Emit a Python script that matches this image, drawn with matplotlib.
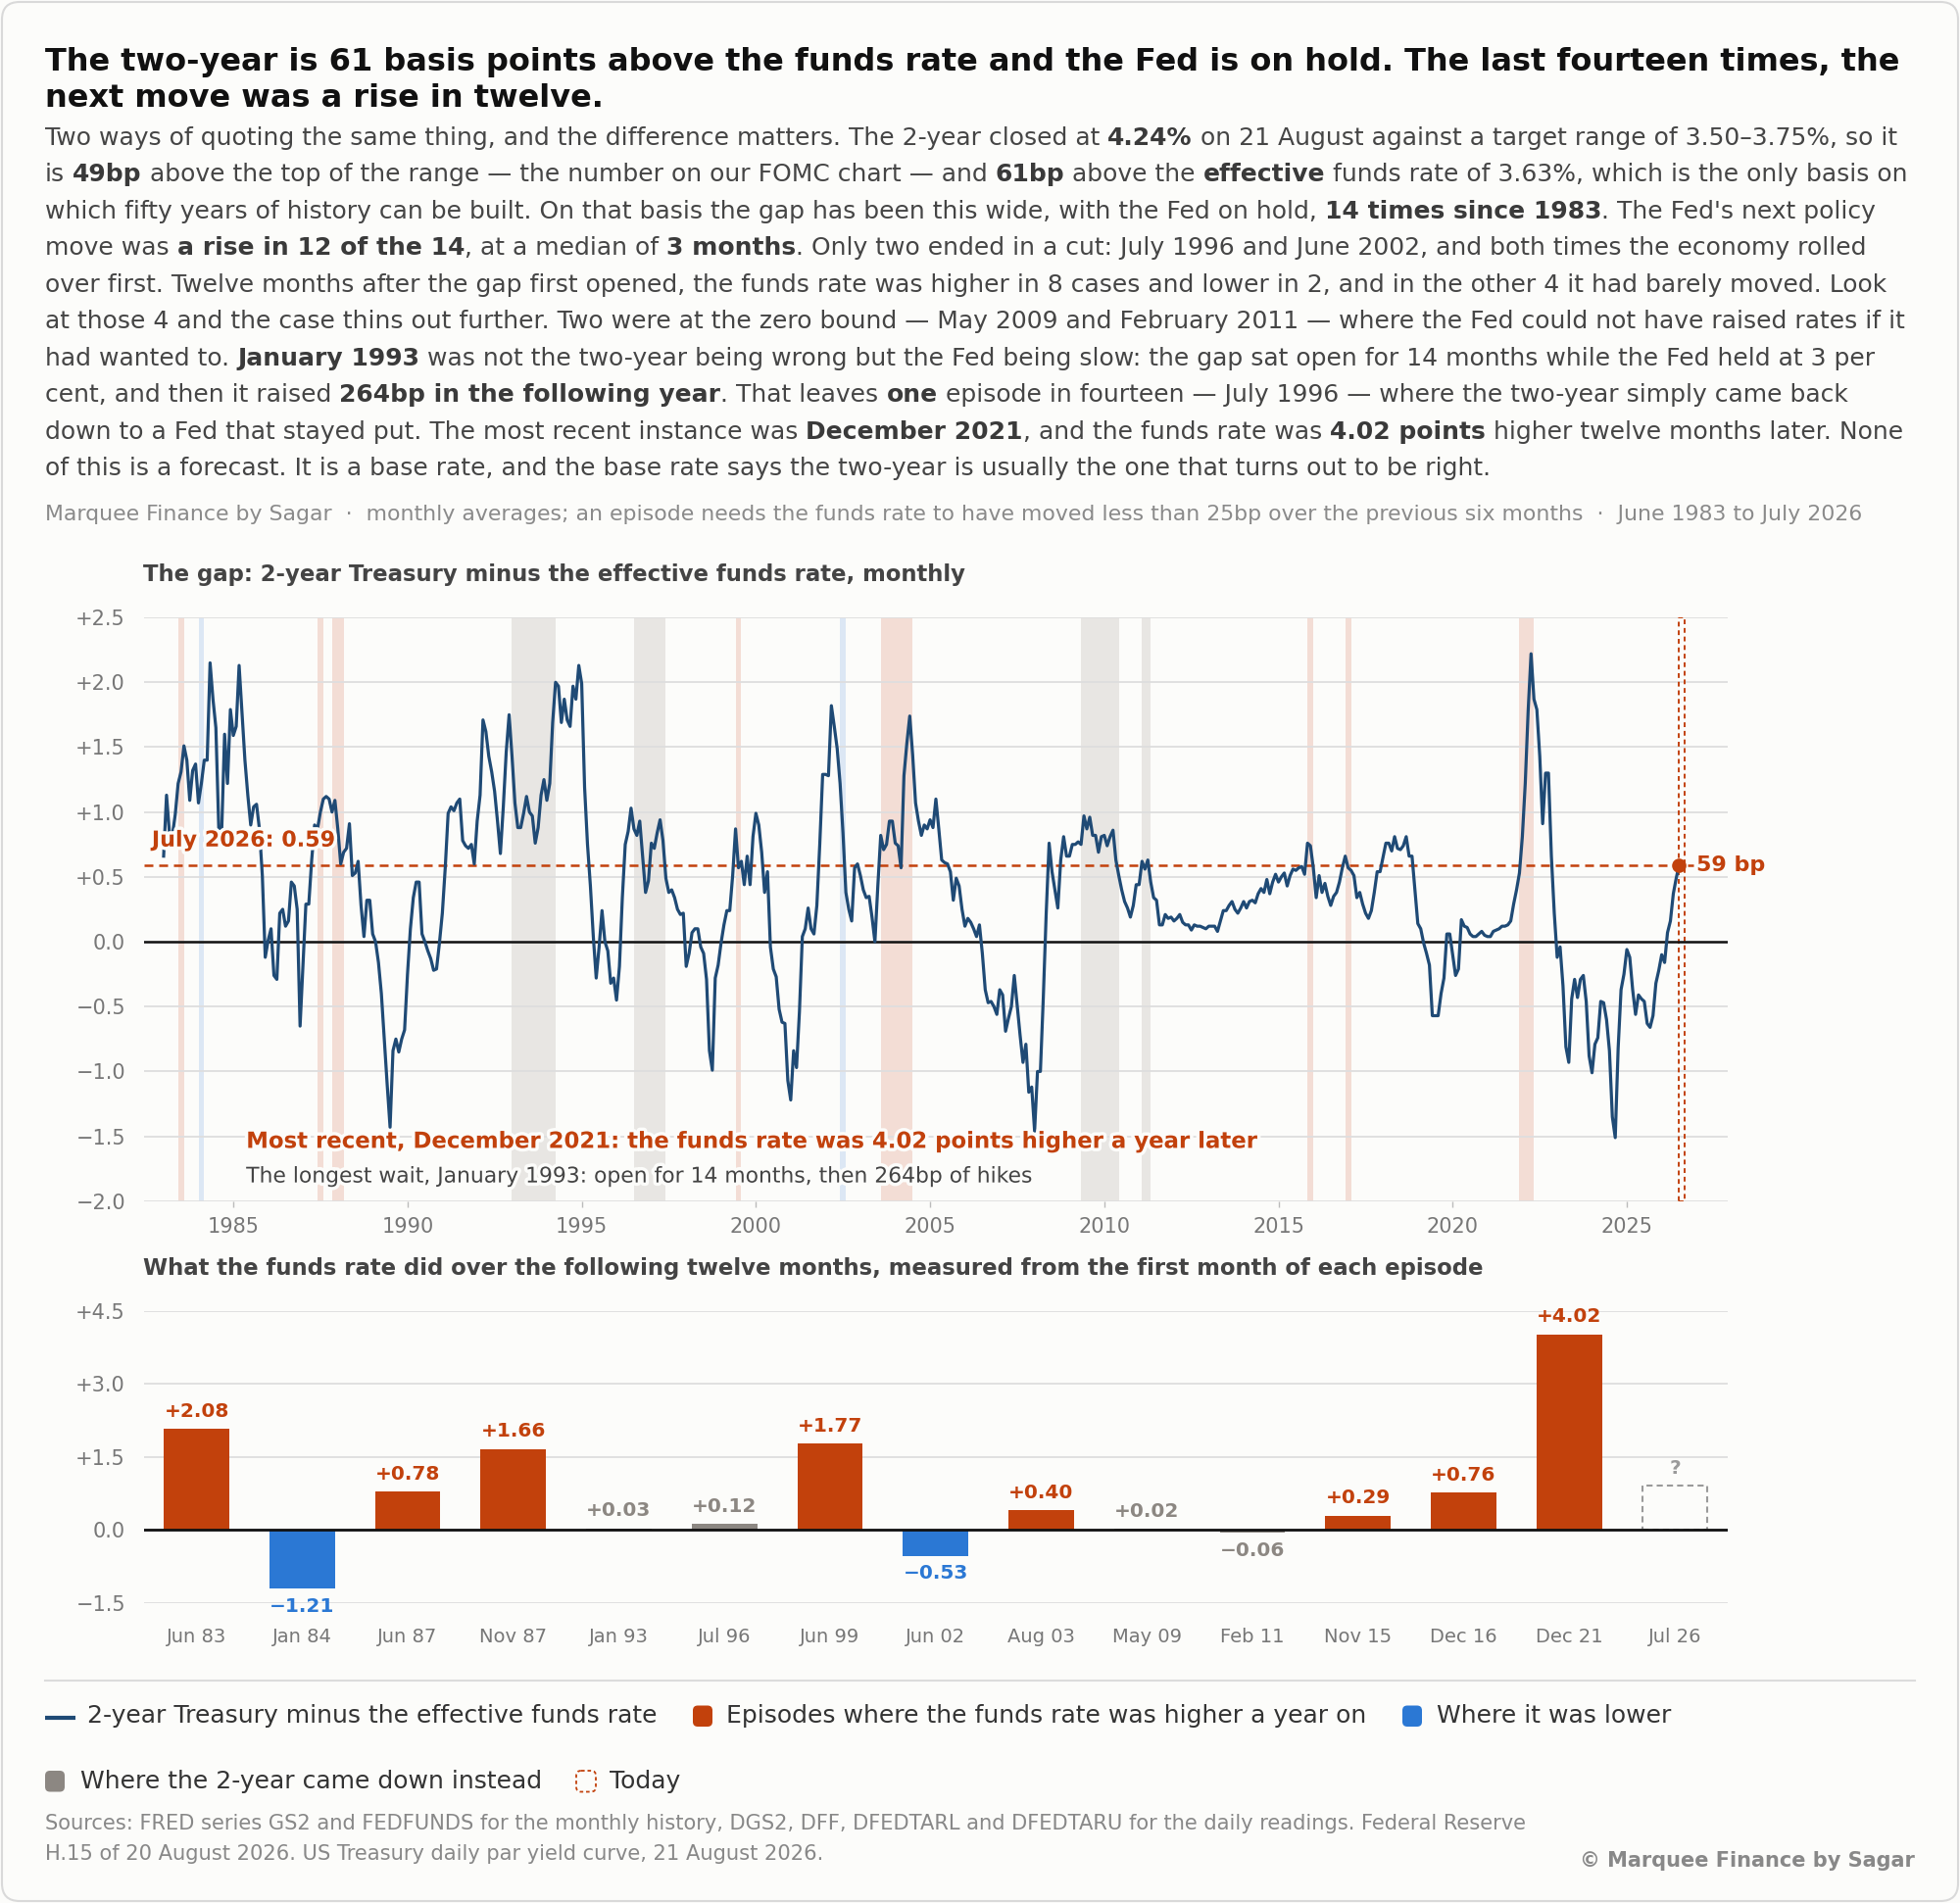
import numpy as np
import matplotlib
matplotlib.use("Agg")
import matplotlib.pyplot as plt
from matplotlib.patches import FancyBboxPatch
import matplotlib.patheffects as pe

plt.rcParams["font.family"] = ["DejaVu Sans"]

# ---------------- data ----------------
# monthly gap (2-year Treasury minus effective funds rate), starting Jan 1983
gap_1983_1989 = [
    0.66, 1.13, 0.84, 0.82, 0.98, 1.22, 1.31, 1.51, 1.40, 1.09, 1.32, 1.37,
    1.07, 1.22, 1.40, 1.40, 2.15, 1.87, 1.65, 0.87, 0.85, 1.60, 1.22, 1.79,
    1.59, 1.66, 2.13, 1.76, 1.40, 1.13, 0.90, 1.04, 1.06, 0.87, 0.51, -0.12,
    0.01, 0.10, -0.26, -0.29, 0.22, 0.25, 0.12, 0.16, 0.46, 0.43, 0.25, -0.65,
    -0.18, 0.29, 0.29, 0.63, 0.90, 0.87, 1.00, 1.10, 1.12, 1.10, 1.00, 1.09,
    0.87, 0.60, 0.69, 0.72, 0.91, 0.51, 0.53, 0.62, 0.28, 0.04, 0.32, 0.32,
    0.06, 0.00, -0.16, -0.40, -0.75, -1.10, -1.43, -0.84, -0.75, -0.85, -0.75, -0.68,
]
gap_1990_1999 = [
    -0.25, 0.10, 0.34, 0.46, 0.46, 0.06, 0.00, -0.07, -0.13, -0.22, -0.21, -0.01,
    0.22, 0.57, 0.99, 1.04, 1.01, 1.07, 1.10, 0.78, 0.74, 0.72, 0.75, 0.60,
    0.93, 1.13, 1.71, 1.62, 1.43, 1.31, 1.16, 0.93, 0.68, 1.04, 1.46, 1.75,
    1.43, 1.07, 0.88, 0.88, 0.99, 1.12, 1.00, 0.97, 0.76, 0.88, 1.13, 1.25,
    1.09, 1.22, 1.69, 2.00, 1.97, 1.69, 1.87, 1.71, 1.66, 1.97, 1.87, 2.13,
    1.99, 1.19, 0.75, 0.43, 0.04, -0.28, -0.04, 0.24, 0.00, -0.07, -0.32, -0.28,
    -0.45, -0.19, 0.34, 0.75, 0.85, 1.03, 0.87, 0.82, 0.93, 0.66, 0.38, 0.47,
    0.76, 0.72, 0.84, 0.94, 0.78, 0.49, 0.38, 0.40, 0.34, 0.25, 0.21, 0.22,
    -0.19, -0.09, 0.07, 0.10, 0.10, -0.04, -0.09, -0.29, -0.84, -0.99, -0.28, -0.18,
    -0.01, 0.13, 0.24, 0.24, 0.51, 0.87, 0.57, 0.62, 0.44, 0.66, 0.44, 0.81,
]
gap_2000_2009 = [
    0.99, 0.90, 0.69, 0.38, 0.54, -0.04, -0.21, -0.27, -0.52, -0.62, -0.63, -1.07,
    -1.22, -0.84, -0.97, -0.54, 0.04, 0.10, 0.26, 0.10, 0.06, 0.28, 0.75, 1.29,
    1.29, 1.28, 1.82, 1.66, 1.49, 1.22, 0.84, 0.38, 0.25, 0.16, 0.57, 0.60,
    0.51, 0.40, 0.34, 0.35, 0.19, 0.00, 0.43, 0.82, 0.71, 0.75, 0.93, 0.93,
    0.76, 0.74, 0.57, 1.28, 1.53, 1.74, 1.44, 1.07, 0.93, 0.82, 0.90, 0.87,
    0.94, 0.88, 1.10, 0.87, 0.63, 0.61, 0.60, 0.54, 0.32, 0.49, 0.43, 0.25,
    0.12, 0.18, 0.15, 0.10, 0.04, 0.13, -0.09, -0.37, -0.47, -0.46, -0.50, -0.56,
    -0.37, -0.41, -0.69, -0.59, -0.50, -0.26, -0.49, -0.72, -0.93, -0.79, -1.16, -1.12,
    -1.46, -1.00, -1.00, -0.43, 0.22, 0.76, 0.54, 0.40, 0.26, 0.63, 0.81, 0.66,
    0.66, 0.75, 0.75, 0.77, 0.75, 0.97, 0.87, 0.96, 0.82, 0.82, 0.69, 0.81,
]
gap_2010_2019 = [
    0.82, 0.74, 0.81, 0.86, 0.63, 0.51, 0.40, 0.31, 0.26, 0.19, 0.28, 0.44,
    0.44, 0.62, 0.56, 0.63, 0.46, 0.34, 0.32, 0.13, 0.13, 0.21, 0.18, 0.19,
    0.16, 0.18, 0.21, 0.15, 0.13, 0.13, 0.09, 0.13, 0.12, 0.12, 0.11, 0.10,
    0.12, 0.12, 0.12, 0.08, 0.16, 0.24, 0.24, 0.28, 0.31, 0.25, 0.22, 0.26,
    0.31, 0.26, 0.31, 0.32, 0.30, 0.37, 0.41, 0.38, 0.48, 0.37, 0.46, 0.52,
    0.46, 0.50, 0.53, 0.43, 0.51, 0.56, 0.55, 0.57, 0.58, 0.52, 0.76, 0.74,
    0.57, 0.34, 0.51, 0.38, 0.45, 0.35, 0.28, 0.35, 0.38, 0.46, 0.57, 0.66,
    0.57, 0.55, 0.51, 0.34, 0.38, 0.29, 0.22, 0.18, 0.24, 0.38, 0.54, 0.54,
    0.65, 0.76, 0.76, 0.70, 0.81, 0.72, 0.71, 0.74, 0.81, 0.66, 0.66, 0.40,
    0.14, 0.10, -0.01, -0.09, -0.18, -0.57, -0.57, -0.57, -0.40, -0.28, 0.06, 0.06,
]
gap_2020_2026 = [
    -0.10, -0.26, -0.21, 0.17, 0.12, 0.11, 0.06, 0.04, 0.04, 0.06, 0.08, 0.05,
    0.04, 0.04, 0.08, 0.09, 0.10, 0.12, 0.12, 0.13, 0.16, 0.29, 0.40, 0.53,
    0.81, 1.22, 1.78, 2.22, 1.87, 1.79, 1.43, 0.91, 1.30, 1.30, 0.66, 0.22,
    -0.12, -0.04, -0.34, -0.81, -0.93, -0.44, -0.29, -0.43, -0.29, -0.26, -0.46, -0.88,
    -1.01, -0.79, -0.74, -0.46, -0.47, -0.60, -0.84, -1.35, -1.51, -0.82, -0.37, -0.25,
    -0.06, -0.12, -0.37, -0.56, -0.41, -0.44, -0.46, -0.63, -0.66, -0.57, -0.32, -0.22,
    -0.10, -0.16, 0.07, 0.16, 0.37, 0.49, 0.59,
]
series_start_year = 1983

episode_labels = ["Jun 83", "Jan 84", "Jun 87", "Nov 87", "Jan 93", "Jul 96", "Jun 99",
                  "Jun 02", "Aug 03", "May 09", "Feb 11", "Nov 15", "Dec 16", "Dec 21"]
episode_start = [(1983, 6), (1984, 1), (1987, 6), (1987, 11), (1993, 1), (1996, 7), (1999, 6),
                 (2002, 6), (2003, 8), (2009, 5), (2011, 2), (2015, 11), (2016, 12), (2021, 12)]
episode_months_open = [2, 2, 2, 4, 15, 11, 2, 2, 11, 13, 3, 2, 2, 5]
episode_change_12m = [2.08, -1.21, 0.78, 1.66, 0.03, 0.12, 1.77, -0.53, 0.40, 0.02, -0.06, 0.29, 0.76, 4.02]
episode_outcome = ["higher", "lower", "higher", "higher", "down", "down", "higher",
                   "lower", "higher", "down", "down", "higher", "higher", "higher"]
today_label = "Jul 26"
today_start = (2026, 7)
today_months_open = 2
today_gap = 0.59
today_placeholder = 0.90

top_yticks = [-2.0, -1.5, -1.0, -0.5, 0.0, 0.5, 1.0, 1.5, 2.0, 2.5]
top_xticks = [1985, 1990, 1995, 2000, 2005, 2010, 2015, 2020, 2025]
bot_yticks = [-1.5, 0.0, 1.5, 3.0, 4.5]

# ---------------- style ----------------
BG = "#fcfcfa"
NAVY = "#1f4a75"
ORANGE = "#c2410c"
BLUE = "#2b78d4"
GRAY = "#8c8782"
BAND = {"higher": "#f3ddd5", "lower": "#dce7f4", "down": "#e8e6e3"}
BAR = {"higher": ORANGE, "lower": BLUE, "down": GRAY}
TICK = "#777777"
GRID = "#dedede"


def signed(v):
    if abs(v) < 1e-9:
        return "0.0"
    return ("+" if v > 0 else "\u2212") + f"{abs(v):.1f}"


def signed2(v):
    return ("+" if v >= 0 else "\u2212") + f"{abs(v):.2f}"


W, H = 2000, 1942
fig = plt.figure(figsize=(W / 100, H / 100), dpi=100, facecolor=BG)
ov = fig.add_axes([0, 0, 1, 1], zorder=10)
ov.set_xlim(0, W)
ov.set_ylim(H, 0)
ov.axis("off")
ov.patch.set_alpha(0)
renderer = fig.canvas.get_renderer()

_cache = {}


def tw(s, size, weight="normal"):
    def raw(txt):
        t = ov.text(0, 0, txt, fontsize=size, fontweight=weight)
        w = t.get_window_extent(renderer).width
        t.remove()
        return w
    key = (size, weight)
    if key not in _cache:
        _cache[key] = raw("||")
    return raw("|" + s + "|") - _cache[key]


def fit(s, target, weight="normal"):
    return 20 * target / tw(s, 20, weight)


def rich_width(segs, size):
    return sum(tw(s, size, "bold" if b else "normal") for s, b in segs)


def rich_line(x, y, segs, size, cn, cb):
    cx = x
    for s, b in segs:
        wt = "bold" if b else "normal"
        stripped = s.lstrip(" ")
        lead = len(s) - len(stripped)
        if lead:
            cx += tw(" " * lead, size, wt)
        core = stripped.rstrip(" ")
        trail = len(stripped) - len(core)
        if core:
            ov.text(cx, y, core, fontsize=size, fontweight=wt, color=cb if b else cn,
                    va="baseline", ha="left")
            cx += tw(core, size, wt)
        if trail:
            cx += tw(" " * trail, size, wt)


# border
ov.add_patch(FancyBboxPatch((2, 2), W - 4, H - 4, boxstyle="round,pad=0,rounding_size=18",
                            fc="none", ec="#d9d9d9", lw=1.5))

# ---------------- header text ----------------
title1 = "The two-year is 61 basis points above the funds rate and the Fed is on hold. The last fourteen times, the"
title2 = "next move was a rise in twelve."
ts = fit(title1, 1893, "bold")
ov.text(46, 72, title1, fontsize=ts, fontweight="bold", color="#111111", va="baseline")
ov.text(46, 109, title2, fontsize=ts, fontweight="bold", color="#111111", va="baseline")

para = [
    [("Two ways of quoting the same thing, and the difference matters. The 2-year closed at ", False),
     ("4.24%", True), (" on 21 August against a target range of 3.50\u20133.75%, so it", False)],
    [("is ", False), ("49bp", True), (" above the top of the range \u2014 the number on our FOMC chart \u2014 and ", False),
     ("61bp", True), (" above the ", False), ("effective", True),
     (" funds rate of 3.63%, which is the only basis on", False)],
    [("which fifty years of history can be built. On that basis the gap has been this wide, with the Fed on hold, ", False),
     ("14 times since 1983", True), (". The Fed's next policy", False)],
    [("move was ", False), ("a rise in 12 of the 14", True), (", at a median of ", False), ("3 months", True),
     (". Only two ended in a cut: July 1996 and June 2002, and both times the economy rolled", False)],
    [("over first. Twelve months after the gap first opened, the funds rate was higher in 8 cases and lower in 2, and in the other 4 it had barely moved. Look", False)],
    [("at those 4 and the case thins out further. Two were at the zero bound \u2014 May 2009 and February 2011 \u2014 where the Fed could not have raised rates if it", False)],
    [("had wanted to. ", False), ("January 1993", True),
     (" was not the two-year being wrong but the Fed being slow: the gap sat open for 14 months while the Fed held at 3 per", False)],
    [("cent, and then it raised ", False), ("264bp in the following year", True), (". That leaves ", False),
     ("one", True), (" episode in fourteen \u2014 July 1996 \u2014 where the two-year simply came back", False)],
    [("down to a Fed that stayed put. The most recent instance was ", False), ("December 2021", True),
     (", and the funds rate was ", False), ("4.02 points", True), (" higher twelve months later. None", False)],
    [("of this is a forecast. It is a base rate, and the base rate says the two-year is usually the one that turns out to be right.", False)],
]
ps = 20 * 1886 / rich_width(para[0], 20)
for i, segs in enumerate(para):
    rich_line(46, 148 + i * 37.45, segs, ps, "#454545", "#3a3a3a")

sub = ("Marquee Finance by Sagar  \u00b7  monthly averages; an episode needs the funds rate to have moved "
       "less than 25bp over the previous six months  \u00b7  June 1983 to July 2026")
ov.text(46, 531, sub, fontsize=fit(sub, 1851), color="#8a8a8a", va="baseline")

t_top = "The gap: 2-year Treasury minus the effective funds rate, monthly"
ov.text(145.5, 593.5, t_top, fontsize=fit(t_top, 840, "bold"), fontweight="bold", color="#444444", va="baseline")
t_bot = "What the funds rate did over the following twelve months, measured from the first month of each episode"
ov.text(145.5, 1301.5, t_bot, fontsize=fit(t_bot, 1372, "bold"), fontweight="bold", color="#444444", va="baseline")

# ---------------- top chart ----------------
gap = np.array(gap_1983_1989 + gap_1990_1999 + gap_2000_2009 + gap_2010_2019 + gap_2020_2026)
xt = series_start_year + np.arange(len(gap)) / 12.0

ax = fig.add_axes([146.7 / W, 1 - 1225.8 / H, (1762.8 - 146.7) / W, (1225.8 - 630.1) / H])
ax.set_facecolor(BG)
ax.set_xlim(1982.43, 2027.89)
ax.set_ylim(-2.0, 2.5)
for (yy, mm), n, oc in zip(episode_start, episode_months_open, episode_outcome):
    s = yy + (mm - 1) / 12
    ax.axvspan(s, s + n / 12, color=BAND[oc], lw=0, zorder=0.3)
ts0 = today_start[0] + (today_start[1] - 1) / 12
ax.axvspan(ts0, ts0 + today_months_open / 12, fill=False, ec=ORANGE, lw=1.4,
           ls=(0, (2.5, 2)), zorder=2)
ax.set_axisbelow(True)
ax.grid(axis="y", color=GRID, lw=1.3)
ax.axhline(0, color="#111111", lw=1.8, zorder=2)
ax.plot([1982.43, 2026.9], [today_gap, today_gap], color=ORANGE, lw=1.8, dashes=(3.6, 2.4), zorder=2.5)
ax.plot(xt, gap, color=NAVY, lw=2.3, zorder=3, solid_joinstyle="round")
ax.plot(xt[-1], gap[-1], "o", ms=9.5, color=ORANGE, zorder=5)
halo = [pe.withStroke(linewidth=5, foreground=BG)]
ax.text(2027.0, today_gap, f"{round(today_gap*100)} bp", color=ORANGE, fontsize=16, fontweight="bold",
        va="center", ha="left", zorder=6)
ax.text(1982.66, 0.78, f"July 2026: {today_gap:.2f}", color=ORANGE, fontsize=16, fontweight="bold",
        va="center", ha="left", zorder=6, path_effects=halo)
a1 = "Most recent, December 2021: the funds rate was 4.02 points higher a year later"
a2 = "The longest wait, January 1993: open for 14 months, then 264bp of hikes"
ax.text(1985.37, -1.54, a1, color=ORANGE, fontsize=fit(a1, 1032, "bold"), fontweight="bold",
        va="center", ha="left", zorder=6, path_effects=halo)
ax.text(1985.37, -1.81, a2, color="#444444", fontsize=fit(a2, 802), va="center", ha="left",
        zorder=6, path_effects=halo)
ax.set_yticks(top_yticks)
ax.set_yticklabels([signed(v) for v in top_yticks])
ax.set_xticks(top_xticks)
ax.set_xticklabels([str(v) for v in top_xticks])
ax.tick_params(axis="y", length=0, pad=13.5, labelsize=15, labelcolor=TICK)
ax.tick_params(axis="x", length=4, width=1, color="#bbbbbb", pad=7.5, labelsize=15, labelcolor=TICK)
for sp in ax.spines.values():
    sp.set_visible(False)

# ---------------- bottom chart ----------------
bx = fig.add_axes([146.7 / W, 1 - 1635.7 / H, (1762.8 - 146.7) / W, (1635.7 - 1337.7) / H])
bx.set_facecolor(BG)
n_ep = len(episode_labels)
bx.set_xlim(-0.5, n_ep + 0.5)
bx.set_ylim(-1.5, 4.5)
bx.set_axisbelow(True)
bx.grid(axis="y", color=GRID, lw=1.3)
pos = np.arange(n_ep)
bx.bar(pos, episode_change_12m, width=0.62, color=[BAR[o] for o in episode_outcome], zorder=2)
bx.bar(n_ep, today_placeholder, width=0.62, fill=False, ec="#9a9a9a", lw=1.5, ls=(0, (3, 2)), zorder=2)
bx.axhline(0, color="#111111", lw=2.0, zorder=3)
for p, v, o in zip(pos, episode_change_12m, episode_outcome):
    off = 6 if v >= 0 else -6
    bx.annotate(signed2(v), (p, v), xytext=(0, off), textcoords="offset points",
                ha="center", va="bottom" if v >= 0 else "top", color=BAR[o],
                fontsize=14.5, fontweight="bold", zorder=5)
bx.annotate("?", (n_ep, today_placeholder), xytext=(0, 6), textcoords="offset points",
            ha="center", va="bottom", color="#9a9a9a", fontsize=14.5, fontweight="bold")
bx.set_yticks(bot_yticks)
bx.set_yticklabels([signed(v) for v in bot_yticks])
bx.set_xticks(np.arange(n_ep + 1))
bx.set_xticklabels(episode_labels + [today_label])
bx.tick_params(axis="y", length=0, pad=13.5, labelsize=15, labelcolor=TICK)
bx.tick_params(axis="x", length=0, pad=18, labelsize=14, labelcolor=TICK)
for sp in bx.spines.values():
    sp.set_visible(False)

# ---------------- legend / footer ----------------
ov.plot([46, 1954], [1715, 1715], color="#dcdcdc", lw=1.5)
l1 = "2-year Treasury minus the effective funds rate"
ls_ = fit(l1, 579)
ov.plot([46, 76.5], [1753, 1753], color=NAVY, lw=3, solid_capstyle="butt")
ov.text(89, 1751, l1, fontsize=ls_, color="#333333", va="center", ha="left")


def swatch(x, y, fc, ec=None, dashed=False):
    ov.add_patch(FancyBboxPatch((x, y), 20, 21.5, boxstyle="round,pad=0,rounding_size=5",
                                fc=fc, ec=ec if ec else fc, lw=1.3 if dashed else 0,
                                ls=(0, (2, 1.6)) if dashed else "solid"))


swatch(707, 1740.5, ORANGE)
ov.text(741, 1751, "Episodes where the funds rate was higher a year on", fontsize=ls_, color="#333333",
        va="center", ha="left")
swatch(1431, 1740.5, BLUE)
ov.text(1465.5, 1751, "Where it was lower", fontsize=ls_, color="#333333", va="center", ha="left")
swatch(46, 1807, GRAY)
ov.text(81.5, 1817.5, "Where the 2-year came down instead", fontsize=ls_, color="#333333",
        va="center", ha="left")
swatch(588, 1807, "none", ec=ORANGE, dashed=True)
ov.text(622.5, 1817.5, "Today", fontsize=ls_, color="#333333", va="center", ha="left")

s1 = ("Sources: FRED series GS2 and FEDFUNDS for the monthly history, DGS2, DFF, DFEDTARL and DFEDTARU "
      "for the daily readings. Federal Reserve")
s2 = "H.15 of 20 August 2026. US Treasury daily par yield curve, 21 August 2026."
ss = fit(s1, 1515)
ov.text(46, 1866.7, s1, fontsize=ss, color="#888888", va="baseline")
ov.text(46, 1898.5, s2, fontsize=ss, color="#888888", va="baseline")
cp = "\u00a9 Marquee Finance by Sagar"
ov.text(1954, 1905, cp, fontsize=fit(cp, 343, "bold"), fontweight="bold", color="#888888",
        va="baseline", ha="right")

fig.savefig("out.png", dpi=100, facecolor=BG)
